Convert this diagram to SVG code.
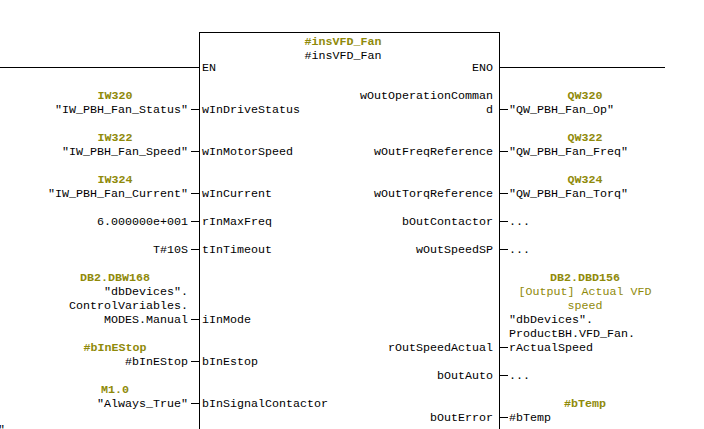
<svg xmlns="http://www.w3.org/2000/svg" width="704" height="429" viewBox="0 0 704 429">
<style>
text{font-family:"Liberation Mono","Courier New",monospace;font-size:11.67px;fill:#000;white-space:pre}
.e{text-anchor:end}
.c{text-anchor:middle}
.g{fill:#8f8a0a;font-weight:bold}
.h{fill:#8f8a0a}
line,rect{stroke:#000;stroke-width:1;fill:none}
</style>
<rect width="704" height="429" style="fill:#fff;stroke:none"/>
<g id="connectors">
<line x1="0" y1="67.5" x2="199" y2="67.5"/>
<line x1="500" y1="67.5" x2="665" y2="67.5"/>
<line x1="191" y1="109.5" x2="199" y2="109.5"/>
<line x1="191" y1="151.5" x2="199" y2="151.5"/>
<line x1="191" y1="193.5" x2="199" y2="193.5"/>
<line x1="191" y1="221.5" x2="199" y2="221.5"/>
<line x1="191" y1="249.5" x2="199" y2="249.5"/>
<line x1="191" y1="319.5" x2="199" y2="319.5"/>
<line x1="191" y1="361.5" x2="199" y2="361.5"/>
<line x1="191" y1="403.5" x2="199" y2="403.5"/>
<line x1="500" y1="109.5" x2="508" y2="109.5"/>
<line x1="500" y1="151.5" x2="508" y2="151.5"/>
<line x1="500" y1="193.5" x2="508" y2="193.5"/>
<line x1="500" y1="221.5" x2="508" y2="221.5"/>
<line x1="500" y1="249.5" x2="508" y2="249.5"/>
<line x1="500" y1="347.5" x2="508" y2="347.5"/>
<line x1="500" y1="375.5" x2="508" y2="375.5"/>
<line x1="500" y1="417.5" x2="508" y2="417.5"/>
</g>
<g id="block-insVFD_Fan">
<rect x="199.5" y="32.5" width="300" height="410"/>
<text class="c g" x="343" y="45">#insVFD_Fan</text>
<text class="c" x="343" y="59">#insVFD_Fan</text>
<text x="202" y="71">EN</text>
<text class="e" x="493" y="71">ENO</text>
<text x="202" y="113">wInDriveStatus</text>
<text x="202" y="155">wInMotorSpeed</text>
<text x="202" y="197">wInCurrent</text>
<text x="202" y="225">rInMaxFreq</text>
<text x="202" y="253">tInTimeout</text>
<text x="202" y="323">iInMode</text>
<text x="202" y="365">bInEstop</text>
<text x="202" y="407">bInSignalContactor</text>
<text class="e" x="493" y="99">wOutOperationComman</text>
<text class="e" x="493" y="113">d</text>
<text class="e" x="493" y="155">wOutFreqReference</text>
<text class="e" x="493" y="197">wOutTorqReference</text>
<text class="e" x="493" y="225">bOutContactor</text>
<text class="e" x="493" y="253">wOutSpeedSP</text>
<text class="e" x="493" y="351">rOutSpeedActual</text>
<text class="e" x="493" y="379">bOutAuto</text>
<text class="e" x="493" y="421">bOutError</text>
</g>
<g id="inputs">
<text class="c g" x="115" y="99">IW320</text>
<text class="e" x="188" y="113">"IW_PBH_Fan_Status"</text>
<text class="c g" x="115" y="141">IW322</text>
<text class="e" x="188" y="155">"IW_PBH_Fan_Speed"</text>
<text class="c g" x="115" y="183">IW324</text>
<text class="e" x="188" y="197">"IW_PBH_Fan_Current"</text>
<text class="e" x="188" y="225">6.000000e+001</text>
<text class="e" x="188" y="253">T#10S</text>
<text class="c g" x="115" y="281">DB2.DBW168</text>
<text class="e" x="188" y="295">"dbDevices".</text>
<text class="e" x="188" y="309">ControlVariables.</text>
<text class="e" x="188" y="323">MODES.Manual</text>
<text class="c g" x="115" y="351">#bInEStop</text>
<text class="e" x="188" y="365">#bInEStop</text>
<text class="c g" x="115" y="393">M1.0</text>
<text class="e" x="188" y="407">"Always_True"</text>
<text x="-2" y="433">"</text>
</g>
<g id="outputs">
<text class="c g" x="585" y="99">QW320</text>
<text x="509" y="113">"QW_PBH_Fan_Op"</text>
<text class="c g" x="585" y="141">QW322</text>
<text x="509" y="155">"QW_PBH_Fan_Freq"</text>
<text class="c g" x="585" y="183">QW324</text>
<text x="509" y="197">"QW_PBH_Fan_Torq"</text>
<text x="509" y="225">...</text>
<text x="509" y="253">...</text>
<text class="c g" x="585" y="281">DB2.DBD156</text>
<text class="c h" x="585" y="295">[Output] Actual VFD</text>
<text class="c h" x="585" y="309">speed</text>
<text x="509" y="323">"dbDevices".</text>
<text x="509" y="337">ProductBH.VFD_Fan.</text>
<text x="509" y="351">rActualSpeed</text>
<text x="509" y="379">...</text>
<text class="c g" x="585" y="407">#bTemp</text>
<text x="509" y="421">#bTemp</text>
</g>
</svg>
